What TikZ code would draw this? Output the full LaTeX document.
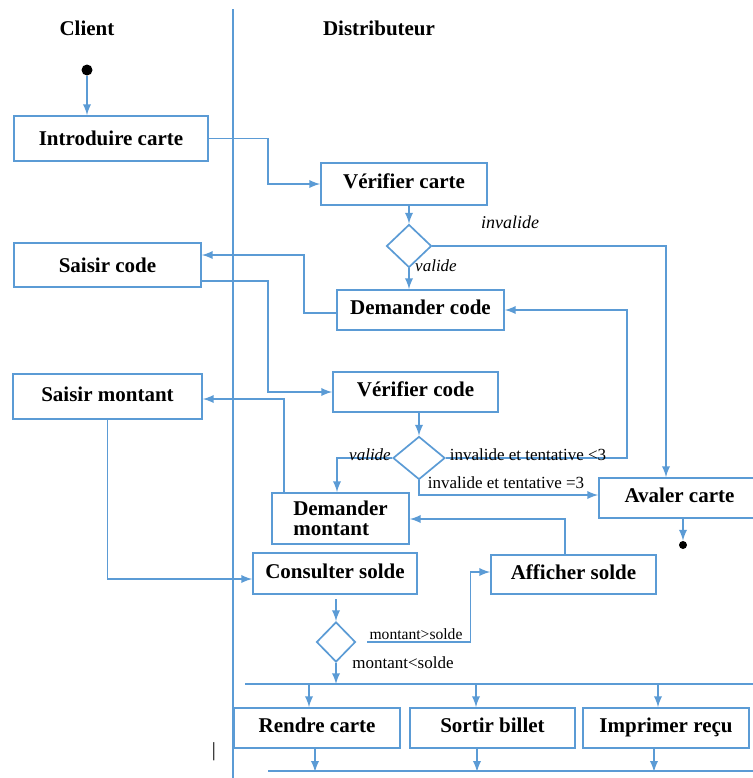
\documentclass[tikz,border=0pt]{standalone}
\usepackage{fontspec}
\setmainfont{Liberation Serif}
\usepackage{tikz}
\usetikzlibrary{shapes.geometric,arrows}
\definecolor{lineblue}{RGB}{91,155,213}

\begin{document}
\begin{tikzpicture}[x=0.5pt,y=-0.5pt,>=latex]
\tikzstyle{box} = [draw=lineblue,line width=0.85pt,inner sep=0pt,font=\fontsize{10.5}{12}\selectfont\bfseries];
\tikzstyle{act} = [box,text depth=2.5pt];
\tikzstyle{choice} = [diamond,draw=lineblue,line width=0.85pt,inner sep=0pt];
\tikzstyle{flow} = [draw=lineblue,line width=0.85pt,->];
\tikzstyle{guard} = [font=\fontsize{8.5}{10}\selectfont];
\useasboundingbox (0,0) rectangle (753,778);
\clip (0,0) rectangle (753,778);

% couloirs
\node[font=\fontsize{10.5}{12}\selectfont\bfseries] (client) at (87,28) {Client};
\node[font=\fontsize{10.5}{12}\selectfont\bfseries] (distrib) at (379,28) {Distributeur};
\coordinate (lanetop) at (233,9);
\coordinate (lanebot) at (233,778);
\draw[lineblue,line width=0.85pt] (lanetop) -- (lanebot);

\node[circle,fill=black,minimum size=5.5pt,inner sep=0pt] (start) at (87,70) {};
\node[act,text depth=0pt,minimum width=97pt,minimum height=22.5pt] (intro) at (111,138.5) {Introduire carte};
\node[act,minimum width=83pt,minimum height=21pt] (verifcarte) at (404,184) {Vérifier carte};
\node[choice,minimum width=22.5pt,minimum height=21.5pt] (d1) at (409,246) {};
\node[act,text depth=0pt,minimum width=93.5pt,minimum height=22pt] (saisircode) at (107.5,265) {Saisir code};
\node[act,minimum width=83.5pt,minimum height=20pt] (demcode) at (420.5,310) {Demander code};
\node[act,minimum width=94.5pt,minimum height=22.5pt] (saisirmont) at (107.5,396.5) {Saisir montant};
\node[act,minimum width=82.5pt,minimum height=20pt] (verifcode) at (415.5,392) {Vérifier code};
\node[choice,minimum width=26pt,minimum height=21.5pt] (d2) at (419,458) {};
\node[box,minimum width=68.5pt,minimum height=25.5pt,align=left,font=\fontsize{10.5}{10}\selectfont\bfseries] (demmont) at (340.5,518.5) {Demander\\montant};
\node[act,minimum width=80.5pt,minimum height=20pt] (avaler) at (679.5,498) {Avaler carte};
\node[circle,fill=black,minimum size=4pt,inner sep=0pt] (fin) at (683,545) {};
\node[act,minimum width=82pt,minimum height=20.5pt] (consulter) at (335,573.5) {Consulter solde};
\node[act,minimum width=82.5pt,minimum height=19.5pt] (afficher) at (573.5,574.5) {Afficher solde};
\node[choice,minimum width=19.5pt,minimum height=20pt] (d3) at (336,642) {};
\node[act,minimum width=83pt,minimum height=20pt] (rendre) at (317,728) {Rendre carte};
\node[act,minimum width=82.5pt,minimum height=20pt] (sortir) at (492.5,728) {Sortir billet};
\node[act,minimum width=83pt,minimum height=20pt] (imprimer) at (666,728) {Imprimer reçu};

\draw[flow] (start) -- (start |- intro.north);
\draw[flow] (intro.east) -- ++(59,0) |- (verifcarte.west);
\draw[flow] (d1.north |- verifcarte.south) -- (d1.north);
\draw[flow] (d1.east) -| ([xshift=-6.75pt]avaler.north);
\node[font=\fontsize{9}{10}\selectfont\itshape] (lblinv) at (510,222) {invalide};
\draw[flow] (d1.south) -- (d1.south |- demcode.north);
\node[font=\fontsize{8.5}{10}\selectfont\itshape] (lblval1) at (436,266) {valide};
\draw[flow] ([yshift=-1.5pt]demcode.west) -- ++(-32,0) |- ([yshift=5pt]saisircode.east);
\draw[flow] ([yshift=-8pt]saisircode.east) -- ++(66,0) |- (verifcode.west);
\draw[flow] (d2.north |- verifcode.south) -- (d2.north);

\draw[flow] (d2.west) -| ([xshift=-1.75pt]demmont.north);
\node[font=\fontsize{8.5}{10}\selectfont\itshape] (lblval2) at (370,455) {valide};
\draw[flow] (d2.east) -- ++(181,0) |- (demcode.east);
\node[guard] (lbltent1) at (528,455) {invalide et tentative <3};
\draw[flow] (d2.south) |- ([yshift=1.5pt]avaler.west);
\node[guard] (lbltent2) at (506,483) {invalide et tentative =3};
\draw[flow] (fin |- avaler.south) -- (fin);

\draw[flow] ([xshift=6.5pt]demmont.north west) |- ([yshift=-1.25pt]saisirmont.east);
\draw[flow] ([xshift=-4.25pt]afficher.north) |- ([yshift=-0.25pt]demmont.east);
\draw[flow] (saisirmont.south) |- ([yshift=-2.75pt]consulter.west);
\draw[flow] (d3.north) ++(0,-22) -- (d3.north);
\draw[flow] ([xshift=5.5pt]d3.east) -- ++(103,0) |- ([yshift=1.25pt]afficher.west);
\node[font=\fontsize{7.8}{9}\selectfont] (lblsup) at (416,634) {montant>solde};
\node[guard] (lblinf) at (403,663) {montant<solde};

% barres de synchronisation
\coordinate (bar1l) at (245,684);
\coordinate (bar1r) at (753,684);
\coordinate (bar2l) at (268,771);
\coordinate (bar2r) at (753,771);
\draw[flow] (d3.south) -- (d3.south |- bar1l);
\draw[lineblue,line width=0.85pt] (bar1l) -- (bar1r);
\foreach \act/\dx in {rendre/-4pt,sortir/-8.25pt,imprimer/-4pt}
  \draw[flow] ([xshift=\dx]\act.north) ++(0,-24) -- ++(0,24);
\foreach \act/\dx in {rendre/-1pt,sortir/-7.75pt,imprimer/-6pt}
  \draw[flow] ([xshift=\dx]\act.south) -- ++(0,23);
\draw[lineblue,line width=0.85pt] (bar2l) -- (bar2r);

\node[font=\fontsize{10}{12}\selectfont] (curseur) at (214,752) {|};
\end{tikzpicture}
\end{document}
